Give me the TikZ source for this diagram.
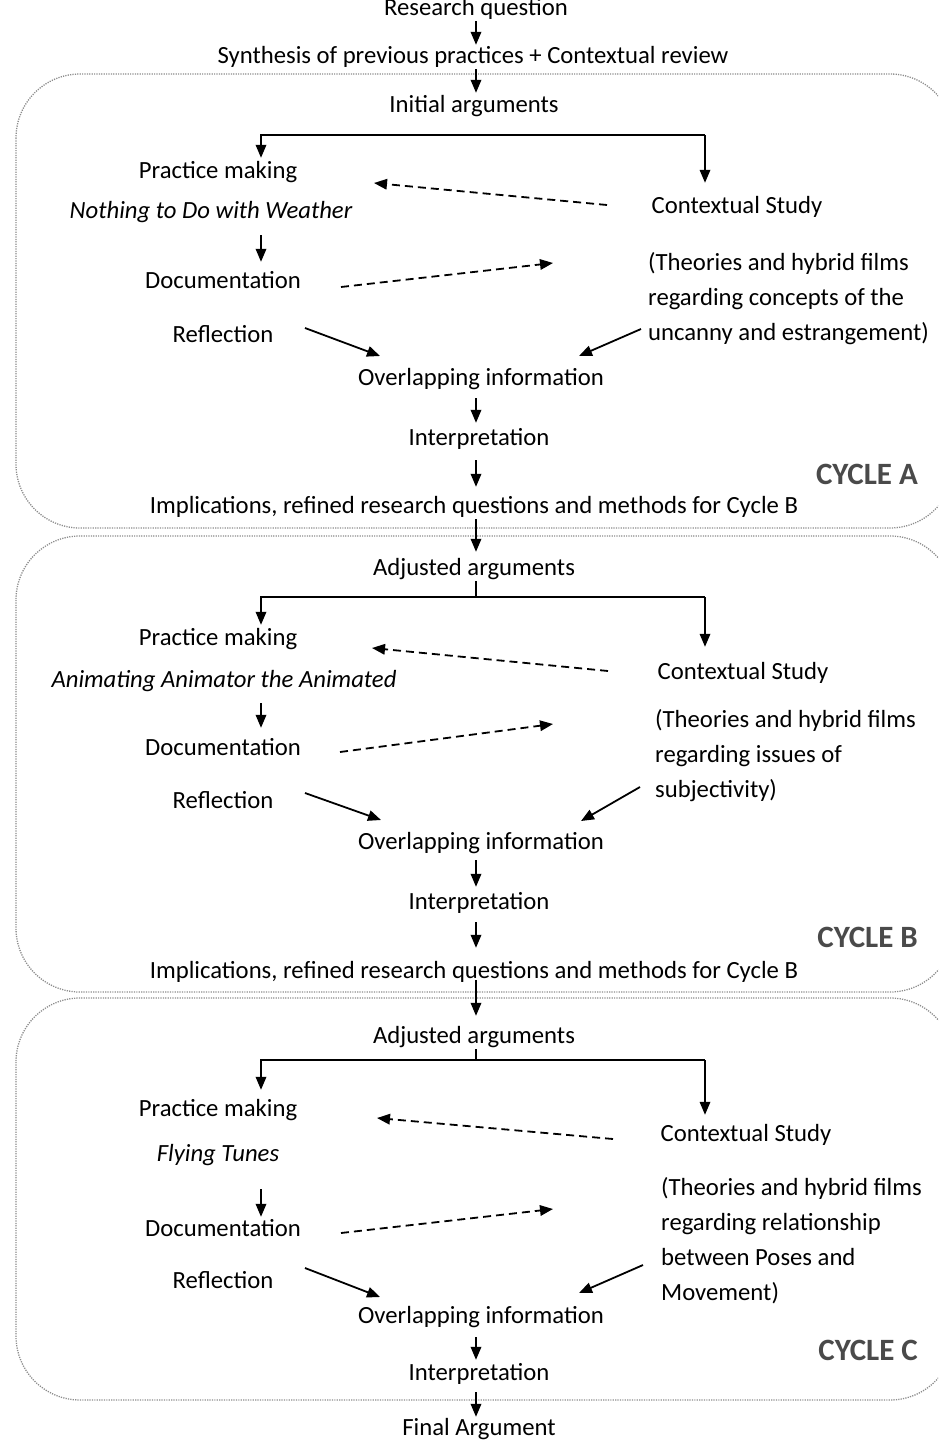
\documentclass[tikz,border=0pt]{standalone}
\usepackage{fontspec}
\setmainfont{Carlito}
\usetikzlibrary{arrows.meta}
\definecolor{boxgray}{HTML}{8C8C8C}
\definecolor{cyclegray}{HTML}{4A4A4A}
\begin{document}
\begin{tikzpicture}[x=1pt,y=-1pt,
 txt/.style={font=\fontsize{24.7pt}{35pt}\selectfont, inner sep=0pt, text height=17pt, text depth=6pt, anchor=base},
 ital/.style={txt, font=\fontsize{24.7pt}{35pt}\selectfont\itshape},
 theory/.style={font=\fontsize{24.7pt}{35pt}\selectfont, inner sep=0pt, align=left, anchor=base west},
 cyclab/.style={font=\fontsize{31pt}{31pt}\selectfont\bfseries, text=cyclegray, inner sep=0pt, anchor=base east},
 arr/.style={-{Triangle[length=13pt,width=10.5pt]}, line width=1.8pt},
 darr/.style={arr, dash pattern=on 8pt off 5pt},
 plain/.style={line width=1.8pt},
 cbox/.style={draw=boxgray, line width=1.3pt, dash pattern=on 1.2pt off 1.2pt, rounded corners=64pt}]

\clip (0,0) rectangle (938,1440);
\fill[white] (0,0) rectangle (938,1440);

% cycle boxes
\draw[cbox] (16,74) rectangle (954,528);
\draw[cbox] (16,536) rectangle (954,992);
\draw[cbox] (16,998) rectangle (954,1400);

% ---------- top ----------
\node[txt] (rq) at (476,15) {Research question};
\node[txt] (syn) at (473,63) {Synthesis of previous practices + Contextual review};

% ---------- cycle A ----------
\node[txt] (initA) at (474,112) {Initial arguments};
\node[txt] (pmA) at (218,178) {Practice making};
\node[ital] (filmA) at (211,218) {Nothing to Do with Weather};
\node[txt] (csA) at (737,213) {Contextual Study};
\node[txt] (docA) at (223,288) {Documentation};
\node[theory] (thA) at (648,340) {(Theories and hybrid films\\regarding concepts of the\\uncanny and estrangement)};
\node[txt] (reflA) at (223,342) {Reflection};
\node[txt] (ovlA) at (481,385) {Overlapping information};
\node[txt] (intA) at (479,445) {Interpretation};
\node[cyclab] (cycA) at (918,484) {CYCLE A};
\node[txt] (implA) at (474,513) {Implications, refined research questions and methods for Cycle B};

% ---------- cycle B ----------
\node[txt] (adjB) at (474,575) {Adjusted arguments};
\node[txt] (pmB) at (218,645) {Practice making};
\node[ital] (filmB) at (224,687) {Animating Animator the Animated};
\node[txt] (csB) at (743,679) {Contextual Study};
\node[txt] (docB) at (223,755) {Documentation};
\node[theory] (thB) at (655,797) {(Theories and hybrid films\\regarding issues of\\subjectivity)};
\node[txt] (reflB) at (223,808) {Reflection};
\node[txt] (ovlB) at (481,849) {Overlapping information};
\node[txt] (intB) at (479,909) {Interpretation};
\node[cyclab] (cycB) at (918,947) {CYCLE B};
\node[txt] (implB) at (474,978) {Implications, refined research questions and methods for Cycle B};

% ---------- cycle C ----------
\node[txt] (adjC) at (474,1043) {Adjusted arguments};
\node[txt] (pmC) at (218,1116) {Practice making};
\node[ital] (filmC) at (218,1161) {Flying Tunes};
\node[txt] (csC) at (746,1141) {Contextual Study};
\node[txt] (docC) at (223,1236) {Documentation};
\node[theory] (thC) at (661,1300) {(Theories and hybrid films\\regarding relationship\\between Poses and\\Movement)};
\node[txt] (reflC) at (223,1288) {Reflection};
\node[txt] (ovlC) at (481,1323) {Overlapping information};
\node[txt] (intC) at (479,1380) {Interpretation};
\node[cyclab] (cycC) at (918,1360) {CYCLE C};
\node[txt] (final) at (479,1435) {Final Argument};

% ---------- helper coordinates ----------
\coordinate (X) at (476,0);
\coordinate (L) at (261,0);

% main vertical arrows
\draw[arr, shorten >=1pt] (rq.south -| X) -- (syn.north -| X);
\draw[arr, shorten >=2pt] (syn.south -| X) -- (initA.north -| X);
\draw[arr, shorten <=7pt, shorten >=5pt] (ovlA.south -| X) -- (intA.north -| X);
\draw[arr, shorten <=9pt, shorten >=9pt] (intA.south -| X) -- (implA.north -| X);
\draw[arr, shorten >=6pt] (implA.south -| X) -- (adjB.north -| X);
\draw[arr, shorten <=5pt, shorten >=5pt] (ovlB.south -| X) -- (intB.north -| X);
\draw[arr, shorten <=7pt, shorten >=13pt] (intB.south -| X) -- (implB.north -| X);
\draw[arr, shorten <=-4pt, shorten >=10pt] (implB.south -| X) -- (adjC.north -| X);
\draw[arr, shorten <=8pt, shorten >=3pt] (ovlC.south -| X) -- (intC.north -| X);
\draw[arr, shorten <=6pt, shorten >=1pt] (intC.south -| X) -- (final.north -| X);

% splits
\coordinate (sAL) at (261,135); \coordinate (sAR) at (705,135);
\draw[arr, shorten >=3pt] (sAR) -- (sAL) -- (sAL |- pmA.north);
\draw[arr, shorten >=13pt] (sAR) -- (sAR |- csA.north);

\coordinate (sBM) at (476,597); \coordinate (sBL) at (261,597); \coordinate (sBR) at (705,597);
\draw[plain] (adjB.south -| sBM) -- (sBM);
\draw[arr, shorten >=3pt] (sBR) -- (sBL) -- (sBL |- pmB.north);
\draw[arr, shorten >=15pt] (sBR) -- (sBR |- csB.north);

\coordinate (sCM) at (476,1060); \coordinate (sCL) at (261,1060); \coordinate (sCR) at (705,1060);
\draw[plain] (adjC.south -| sCM) -- (sCM);
\draw[arr, shorten >=9pt] (sCR) -- (sCL) -- (sCL |- pmC.north);
\draw[arr, shorten >=9pt] (sCR) -- (sCR |- csC.north);

% practice -> documentation
\draw[arr, shorten <=11pt, shorten >=9pt] (filmA.south -| L) -- (docA.north -| L);
\draw[arr, shorten <=10pt, shorten >=10pt] (filmB.south -| L) -- (docB.north -| L);
\draw[arr, shorten <=22pt, shorten >=2pt] (filmC.south -| L) -- (docC.north -| L);

% dashed exchange arrows
\coordinate (dA1s) at (607,205); \coordinate (dA1e) at (374,183);
\coordinate (dA2s) at (341,287); \coordinate (dA2e) at (553,263);
\draw[darr] (dA1s) -- (dA1e);
\draw[darr] (dA2s) -- (dA2e);
\coordinate (dB1s) at (608,671); \coordinate (dB1e) at (372,648);
\coordinate (dB2s) at (340,752); \coordinate (dB2e) at (553,724);
\draw[darr] (dB1s) -- (dB1e);
\draw[darr] (dB2s) -- (dB2e);
\coordinate (dC1s) at (613,1139); \coordinate (dC1e) at (377,1118);
\coordinate (dC2s) at (341,1233); \coordinate (dC2e) at (553,1209);
\draw[darr] (dC1s) -- (dC1e);
\draw[darr] (dC2s) -- (dC2e);

% converging arrows
\coordinate (rA1) at (305,328); \coordinate (rA2) at (380,356);
\coordinate (tA1) at (641,329); \coordinate (tA2) at (579,356);
\draw[arr] (rA1) -- (rA2);
\draw[arr] (tA1) -- (tA2);
\coordinate (rB1) at (305,793); \coordinate (rB2) at (381,820);
\coordinate (tB1) at (640,787); \coordinate (tB2) at (581,821);
\draw[arr] (rB1) -- (rB2);
\draw[arr] (tB1) -- (tB2);
\coordinate (rC1) at (305,1268); \coordinate (rC2) at (380,1297);
\coordinate (tC1) at (643,1265); \coordinate (tC2) at (579,1293);
\draw[arr] (rC1) -- (rC2);
\draw[arr] (tC1) -- (tC2);
\end{tikzpicture}
\end{document}
